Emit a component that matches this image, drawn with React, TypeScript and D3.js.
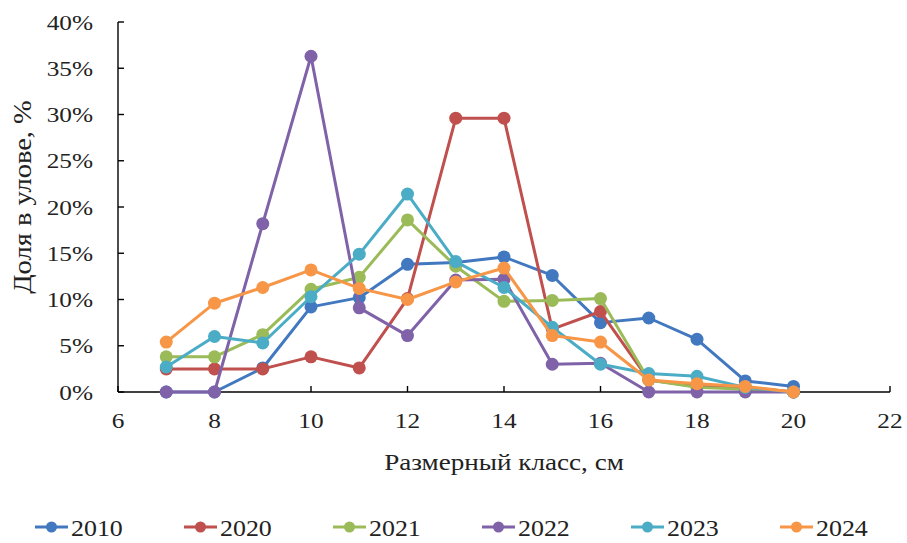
import React from "react";
import * as d3 from "d3";

const sizeClasses = [7, 8, 9, 10, 11, 12, 13, 14, 15, 16, 17, 18, 19, 20];
const seriesNames = ["2010", "2020", "2021", "2022", "2023", "2024"];
const v2010 = [0, 0, 2.6, 9.2, 10.2, 13.8, 14.0, 14.6, 12.6, 7.5, 8.0, 5.7, 1.2, 0.6];
const v2020 = [2.5, 2.5, 2.5, 3.8, 2.6, 10.1, 29.6, 29.6, 6.8, 8.7, 1.3, 0.6, 0.5, 0];
const v2021 = [3.8, 3.8, 6.2, 11.1, 12.4, 18.6, 13.6, 9.8, 9.9, 10.1, 1.3, 0.5, 0.3, 0];
const v2022 = [0, 0, 18.2, 36.3, 9.1, 6.1, 12.1, 12.2, 3.0, 3.1, 0, 0, 0, 0];
const v2023 = [2.7, 6.0, 5.3, 10.3, 14.9, 21.4, 14.1, 11.3, 7.0, 3.0, 2.0, 1.7, 0.5, 0];
const v2024 = [5.4, 9.6, 11.3, 13.2, 11.2, 10.0, 11.9, 13.4, 6.1, 5.4, 1.3, 0.9, 0.6, 0];
const colors = ["#4178c0", "#c0504d", "#9bbb59", "#7f62a8", "#4bacc6", "#f79646"];
const xTicks = [6, 8, 10, 12, 14, 16, 18, 20, 22];
const yTicks = [0, 5, 10, 15, 20, 25, 30, 35, 40];
const xTitle = "Размерный класс, см";
const yTitle = "Доля в улове, %";

const allSeries = [v2010, v2020, v2021, v2022, v2023, v2024];

const FONT = "Liberation Serif";

function T(props: { x: number; y: number; sx?: number; size: number; anchor?: string; rotate?: number; children: React.ReactNode }) {
  const { x, y, sx = 1, size, anchor = "start", rotate = 0, children } = props;
  return (
    <text
      transform={`translate(${x},${y}) rotate(${rotate}) scale(${sx},1)`}
      textAnchor={anchor}
      fontFamily={FONT}
      fontSize={size}
      fill="#222"
    >
      {children}
    </text>
  );
}

export default function App() {
  const W = 907, H = 543;
  const left = 118, right = 890, top = 22, bottom = 392;
  const x = d3.scaleLinear().domain([6, 22]).range([left, right]);
  const y = d3.scaleLinear().domain([0, 40]).range([bottom, top]);
  const line = d3.line<[number, number]>().x(d => x(d[0])).y(d => y(d[1]));
  const legendX0 = 35, legendStep = 149, legendY = 527;

  return (
    <svg width={W} height={H} style={{ position: "absolute", left: 0, top: 0, background: "#fff" }}>
      <rect x={0} y={0} width={W} height={H} fill="#fff" />
      <line x1={left} x2={left} y1={top} y2={bottom} stroke="#000" strokeWidth={1.4} />
      <line x1={left} x2={right} y1={bottom} y2={bottom} stroke="#000" strokeWidth={1.4} />
      {yTicks.map(t => (
        <g key={"y" + t}>
          <line x1={left} x2={left + 6} y1={y(t)} y2={y(t)} stroke="#000" strokeWidth={1.4} />
          <T x={93} y={y(t) + 7.5} size={22} sx={1.15} anchor="end">{t + "%"}</T>
        </g>
      ))}
      {xTicks.map(t => (
        <g key={"x" + t}>
          <line x1={x(t)} x2={x(t)} y1={bottom} y2={bottom - 6} stroke="#000" strokeWidth={1.4} />
          <T x={x(t)} y={428} size={22} sx={1.15} anchor="middle">{t}</T>
        </g>
      ))}
      <T x={504} y={470} size={24} sx={1.13} anchor="middle">{xTitle}</T>
      <T x={31} y={197} size={25} sx={1.14} rotate={-90} anchor="middle">{yTitle}</T>
      {allSeries.map((vals, i) => {
        const pts: [number, number][] = sizeClasses.map((c, j) => [c, vals[j]]);
        return (
          <g key={seriesNames[i]}>
            <path d={line(pts) || ""} fill="none" stroke={colors[i]} strokeWidth={3} strokeLinejoin="round" />
            {pts.map((p, j) => (
              <circle key={j} cx={x(p[0])} cy={y(p[1])} r={6.5} fill={colors[i]} />
            ))}
          </g>
        );
      })}
      {seriesNames.map((n, i) => {
        const lx = legendX0 + i * legendStep;
        return (
          <g key={"l" + n}>
            <line x1={lx} x2={lx + 33} y1={legendY} y2={legendY} stroke={colors[i]} strokeWidth={3} />
            <circle cx={lx + 16.5} cy={legendY} r={5.5} fill={colors[i]} />
            <T x={lx + 36} y={legendY + 8.5} size={24} sx={1.08}>{n}</T>
          </g>
        );
      })}
    </svg>
  );
}
